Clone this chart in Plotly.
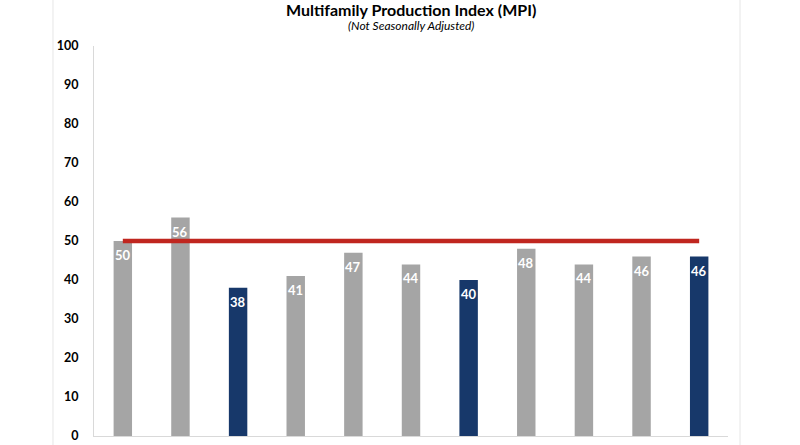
import plotly.graph_objects as go

categories = ["P1", "P2", "P3", "P4", "P5", "P6", "P7", "P8", "P9", "P10", "P11"]
values = [50, 56, 38, 41, 47, 44, 40, 48, 44, 46, 46]
highlight = [False, False, True, False, False, False, True, False, False, False, True]
benchmark = 50

GRAY = "#A5A5A5"
NAVY = "#17386A"
RED = "#C0261F"
FONT = "Lato"

colors = [NAVY if h else GRAY for h in highlight]

fig = go.Figure()
fig.add_trace(go.Bar(
    x=categories, y=values,
    marker=dict(color=colors, line=dict(width=0)),
    width=0.32,
    showlegend=False,
    hoverinfo="skip",
))
fig.add_trace(go.Scatter(
    x=[categories[0], categories[-1]], y=[benchmark, benchmark],
    mode="lines", line=dict(color=RED, width=4.5),
    showlegend=False, hoverinfo="skip",
))

annotations = [
    dict(x=c, y=v, xref="x", yref="y", text=f"<b>{v}</b>", showarrow=False,
         yshift=-14, yanchor="middle", font=dict(color="white", size=13, family=FONT))
    for c, v in zip(categories, values)
]
annotations += [
    dict(text="<b>Multifamily Production Index (MPI)</b>", xref="paper", yref="paper",
         x=0.5, y=1.121, showarrow=False, font=dict(size=16, family=FONT), yanchor="top",
         borderpad=0),
    dict(text="<i>(Not Seasonally Adjusted)</i>", xref="paper", yref="paper",
         x=0.5, y=1.0525, showarrow=False, font=dict(size=12, family=FONT), yanchor="middle",
         borderpad=0),
]

fig.update_layout(
    width=800, height=445,
    margin=dict(l=94, r=72, t=46, b=9),
    paper_bgcolor="white", plot_bgcolor="white",
    font=dict(family=FONT, color="black"),
    xaxis=dict(showticklabels=False, showgrid=False, zeroline=False, automargin=False,
               showline=True, linecolor="#D9D9D9", linewidth=1, ticks=""),
    yaxis=dict(range=[0, 100], dtick=10, showgrid=False, zeroline=False, automargin=False,
               showline=True, linecolor="#D9D9D9", linewidth=1,
               tickfont=dict(size=12.5, family=FONT), ticks="", ticklabelstandoff=12,
               tickprefix="<b>", ticksuffix="</b>"),
    shapes=[
        dict(type="line", xref="paper", yref="paper", x0=-0.0647, x1=-0.0647, y0=-0.05, y1=1.2,
             line=dict(color="#E6E6E6", width=1)),
        dict(type="line", xref="paper", yref="paper", x0=1.019, x1=1.019, y0=-0.05, y1=1.2,
             line=dict(color="#E6E6E6", width=1)),
    ],
    annotations=annotations,
)

fig.write_html("out.html", config={"displayModeBar": False},
               post_script="document.body.style.margin='0';")
